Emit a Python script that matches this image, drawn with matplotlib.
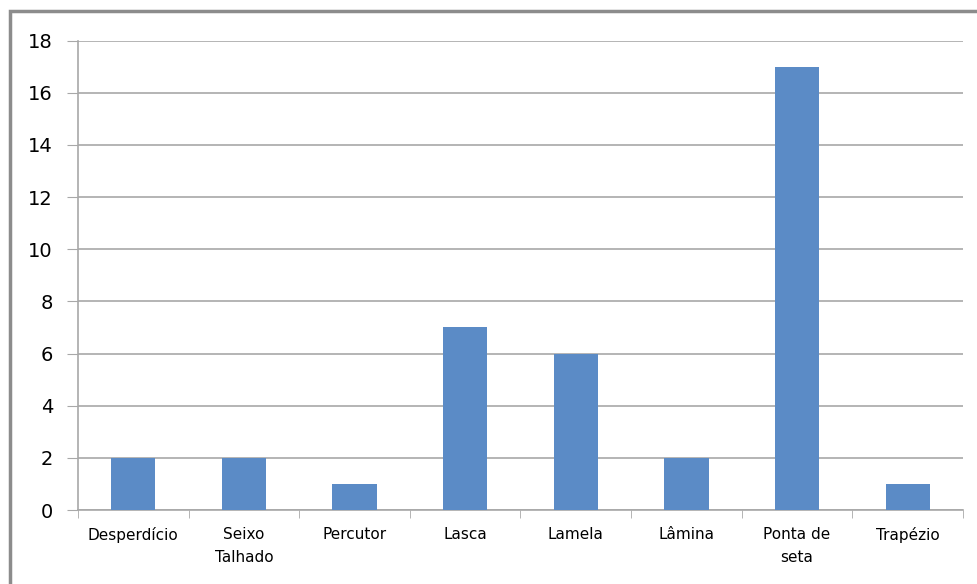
import numpy as np
from matplotlib import pyplot as plt
from matplotlib.patches import Rectangle

# Categorias y valores
categorias = ["Desperdício", "Seixo\nTalhado", "Percutor", "Lasca",
              "Lamela", "Lâmina", "Ponta de\nseta", "Trapézio"]
valores = [2, 2, 1, 7, 6, 2, 17, 1]
yticks = list(range(0, 19, 2))

gris = "#A8A8A8"
azul = "#5B8BC6"

fig = plt.figure(figsize=(9.78, 5.84), dpi=100)
ax = fig.add_axes([78/978, 1-510/584, (963-78)/978, (510-40.7)/584])

x = np.arange(len(categorias)) + 0.5
ax.bar(x, valores, width=0.4, color=azul, zorder=3)

ax.set_xlim(0, len(categorias))
ax.set_ylim(0, 18)

# Eje Y
ax.set_yticks(yticks)
ax.tick_params(axis="y", direction="out", length=8, color=gris, labelsize=14, pad=10)
ax.grid(axis="y", color=gris, linewidth=1.2, zorder=0)

# Eje X: etiquetas centradas, marcas en los bordes
ax.set_xticks(x)
ax.set_xticklabels(categorias, fontsize=11, linespacing=1.7)
ax.tick_params(axis="x", which="major", length=0, pad=12)
ax.set_xticks(np.arange(len(categorias)+1), minor=True)
ax.tick_params(axis="x", which="minor", direction="out", length=6, color=gris)

for s in ["top", "right"]:
    ax.spines[s].set_visible(False)
ax.spines["left"].set_color(gris)
ax.spines["bottom"].set_color(gris)
ax.spines["left"].set_linewidth(1.2)
ax.spines["bottom"].set_linewidth(1.2)

# Marco del grafico
fig.patches.append(Rectangle((10/978, -0.1), 1.2, 1.1 - 11/584, transform=fig.transFigure,
                             fill=False, edgecolor="#8C8C8C", linewidth=2.5))

fig.savefig("out.png", dpi=100)
